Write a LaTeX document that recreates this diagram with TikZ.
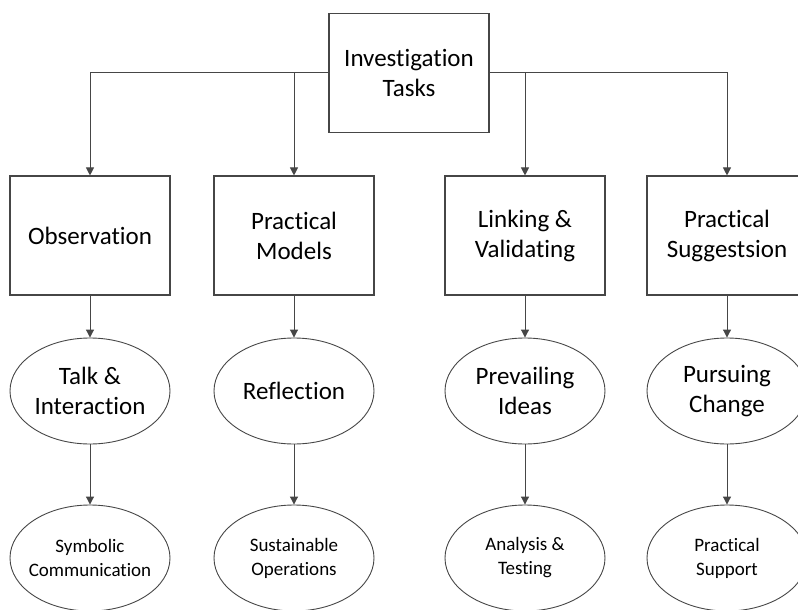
\documentclass[tikz,border=0pt]{standalone}
\usepackage{fontspec}
\setmainfont{Carlito}[Ligatures=NoCommon]
\usetikzlibrary{shapes.geometric,arrows.meta}
\definecolor{edgegray}{RGB}{70,70,70}
\begin{document}
\begin{tikzpicture}[x=1pt,y=-1pt,
  boxnode/.style={draw=edgegray,line width=1.1pt,fill=white,minimum width=160pt,minimum height=119pt,inner sep=0pt,align=center,font=\fontsize{25}{30}\selectfont},
  ellnode/.style={ellipse,draw=edgegray,line width=0.9pt,fill=white,minimum width=160pt,minimum height=106pt,inner sep=-10pt,align=center,font=\fontsize{25}{30}\selectfont},
  smallell/.style={ellnode,font=\fontsize{19}{24}\selectfont},
  conn/.style={draw=edgegray,line width=1pt,-{Triangle[length=8pt,width=8pt]}}]
\clip (0,0) rectangle (798,610);
\fill[white] (0,0) rectangle (798,610);
\node[boxnode] (top) at (409,73) {Investigation\\Tasks};
\node[boxnode] (b1) at (90,235.5) {Observation};
\node[boxnode] (b2) at (294,235.5) {Practical\\Models};
\node[boxnode] (b3) at (525,235.5) {Linking \&\\Validating};
\node[boxnode] (b4) at (727,235.5) {Practical\\Suggestsion};
\node[ellnode] (e1) at (90,391) {Talk \&\\Interaction};
\node[ellnode] (e2) at (294,391) {Reflection};
\node[ellnode] (e3) at (525,391) {Prevailing\\Ideas};
\node[ellnode] (e4) at (727,391) {Pursuing\\Change};
\node[smallell] (s1) at (90,558) {Symbolic\\Communication};
\node[smallell] (s2) at (294,558) {Sustainable\\Operations};
\node[smallell] (s3) at (525,558) {Analysis \&\\Testing};
\node[smallell] (s4) at (727,558) {Practical\\Support};
\draw[conn] (top.west) -| (b1.north);
\draw[conn] (top.west) -| (b2.north);
\draw[conn] (top.east) -| (b3.north);
\draw[conn] (top.east) -| (b4.north);
\foreach \i in {1,2,3,4}{
  \draw[conn] (b\i.south) -- (e\i.north);
  \draw[conn] (e\i.south) -- (s\i.north);
}
\end{tikzpicture}
\end{document}
